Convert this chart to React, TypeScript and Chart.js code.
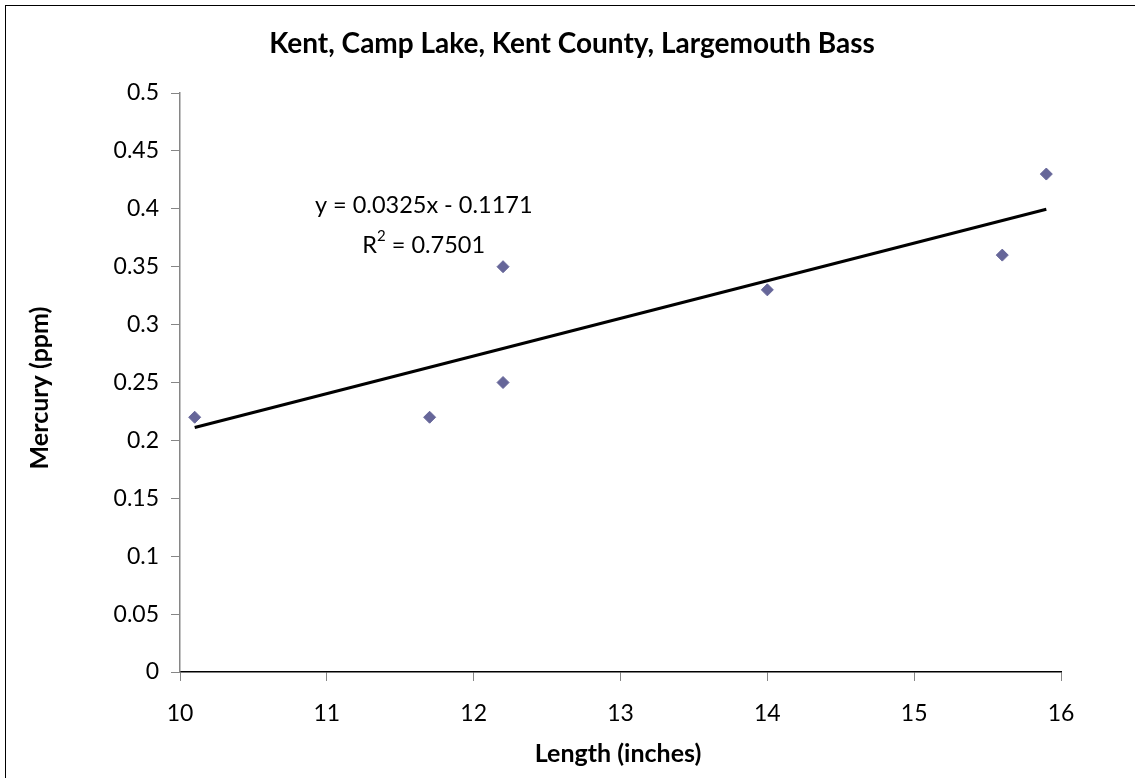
import React, { useEffect, useRef } from "react";
import { Chart, registerables } from "chart.js";

Chart.register(...registerables);

const titleText = "Kent, Camp Lake, Kent County, Largemouth Bass";
const xTitle = "Length (inches)";
const yTitle = "Mercury (ppm)";
const lengths = [10.1, 11.7, 12.2, 12.2, 14, 15.6, 15.9];
const mercury = [0.22, 0.22, 0.35, 0.25, 0.33, 0.36, 0.43];
const slope = 0.0325;
const intercept = -0.1171;
const rSquared = "0.7501";
const trendXs = [10.1, 15.9];

const FONT = "Lato, 'Open Sans', sans-serif";

export default function App() {
  const ref = useRef<HTMLCanvasElement | null>(null);
  useEffect(() => {
    if (!ref.current) return;
    const overlay = {
      id: "overlay",
      afterDraw(chart: any) {
        const ctx = chart.ctx;
        const xs = chart.scales.x;
        const ys = chart.scales.y;
        ctx.save();
        ctx.strokeStyle = "#000";
        ctx.lineWidth = 1;
        ctx.strokeRect(5.5, 5.5, 1200, 900);
        ctx.fillStyle = "#000";
        ctx.textAlign = "center";
        ctx.textBaseline = "alphabetic";
        ctx.font = `bold 28px ${FONT}`;
        ctx.fillText(titleText, 572, 53);
        ctx.font = `bold 25px ${FONT}`;
        ctx.fillText(xTitle, 618, 762);
        ctx.save();
        ctx.translate(48, 388);
        ctx.rotate(-Math.PI / 2);
        ctx.fillText(yTitle, 0, 0);
        ctx.restore();
        // equation
        ctx.textBaseline = "middle";
        ctx.font = `23.5px ${FONT}`;
        const eqX = xs.getPixelForValue(11.66);
        const eqY = ys.getPixelForValue(0.4025);
        ctx.fillText(`y = ${slope}x - ${Math.abs(intercept)}`, eqX, eqY);
        const rText = "R";
        const rest = ` = ${rSquared}`;
        const wR = ctx.measureText(rText).width;
        ctx.font = `15px ${FONT}`;
        const wS = ctx.measureText("2").width;
        ctx.font = `23.5px ${FONT}`;
        const wRest = ctx.measureText(rest).width;
        const total = wR + wS + wRest;
        let sx = eqX - total / 2;
        const ry = ys.getPixelForValue(0.368);
        ctx.textAlign = "left";
        ctx.fillText(rText, sx, ry);
        sx += wR;
        ctx.font = `15px ${FONT}`;
        ctx.fillText("2", sx, ry - 10);
        sx += wS;
        ctx.font = `23.5px ${FONT}`;
        ctx.fillText(rest, sx, ry);
        ctx.restore();
      },
    };
    const fmt = (v: any) => String(Number(Number(v).toFixed(2)));
    const chart = new Chart(ref.current, {
      type: "scatter",
      data: {
        datasets: [
          {
            type: "line",
            label: "Trend",
            data: trendXs.map((x) => ({ x, y: slope * x + intercept })),
            borderColor: "#000",
            borderWidth: 3,
            pointRadius: 0,
            fill: false,
          } as any,
          {
            label: "Data",
            data: lengths.map((x, i) => ({ x, y: mercury[i] })),
            pointStyle: "rectRot",
            pointRadius: 6,
            backgroundColor: "#666699",
            borderColor: "#666699",
            borderWidth: 1,
          },
        ],
      },
      options: {
        animation: false,
        responsive: false,
        layout: { padding: { left: 0, top: 93, right: 74, bottom: 0 } },
        plugins: { legend: { display: false }, title: { display: false }, tooltip: { enabled: false } },
        scales: {
          x: {
            type: "linear",
            min: 10,
            max: 16,
            afterFit: (s: any) => {
              s.height = 106;
            },
            ticks: { stepSize: 1, color: "#000", font: { family: FONT, size: 23 }, padding: 19, callback: fmt },
            grid: { drawOnChartArea: false, drawTicks: true, tickLength: 9, color: "#868686" },
            border: { color: "#000", width: 1.5 },
          },
          y: {
            type: "linear",
            min: 0,
            max: 0.5,
            afterFit: (s: any) => {
              s.width = 180;
            },
            ticks: { stepSize: 0.05, color: "#000", font: { family: FONT, size: 23 }, padding: 12, callback: fmt },
            grid: { drawOnChartArea: false, drawTicks: true, tickLength: 9, color: "#868686" },
            border: { color: "#868686", width: 1.5 },
          },
        },
      },
      plugins: [overlay],
    });
    return () => chart.destroy();
  }, []);
  return (
    <div style={{ position: "absolute", left: 0, top: 0, width: 1135, height: 778, background: "#fff" }}>
      <canvas ref={ref} width={1135} height={778} />
    </div>
  );
}
